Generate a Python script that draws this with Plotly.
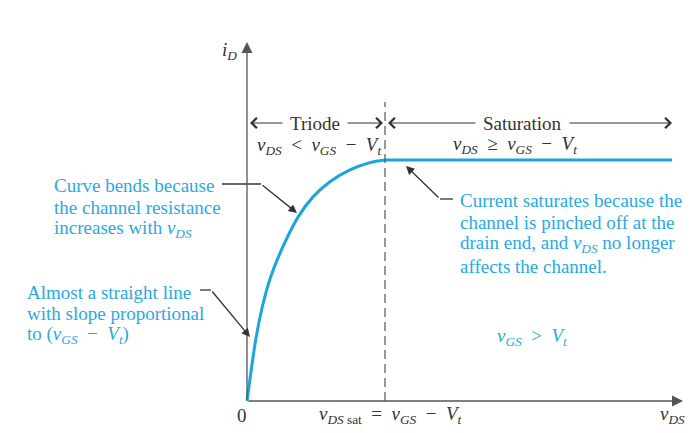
import plotly.graph_objects as go

# ---- data (normalised: vDS / vDS,sat  and  iD / iD,sat) ----
triode_vds = [0.0, 0.031, 0.063, 0.111, 0.172, 0.268, 0.372, 0.480, 0.601, 0.746, 0.891, 1.0]
triode_id = [0.0, 0.130, 0.253, 0.391, 0.516, 0.650, 0.765, 0.848, 0.910, 0.959, 0.989, 1.0]
sat_vds = [1.0, 3.08]
sat_id = [1.0, 1.0]
vds_sat = 1.0
axis_x_end = 3.16
axis_y_end = 1.49

# ---- layout helpers (pixel -> data) ----
W, H = 693, 433
X0, Y0 = 247, 401
SX, SY = 138.0, 241.0


def X(px):
    return (px - X0) / SX


def Y(py):
    return (Y0 - py) / SY


BLUE_LINE = "#1ba4de"
BLUE_TEXT = "#2aa9df"
DARK = "#333333"
AXIS = "#555555"
SERIF = "Liberation Serif"
SP = "\u2002"  # wider gap around operators

fig = go.Figure()
fig.add_trace(go.Scatter(x=triode_vds, y=triode_id, mode="lines",
                         line=dict(color=BLUE_LINE, width=3, shape="spline", smoothing=0.9),
                         hoverinfo="skip", showlegend=False))
fig.add_trace(go.Scatter(x=sat_vds, y=sat_id, mode="lines",
                         line=dict(color=BLUE_LINE, width=3),
                         hoverinfo="skip", showlegend=False))

shapes = [
    # dashed boundary
    dict(type="line", x0=vds_sat, x1=vds_sat, y0=0, y1=Y(102), xref="x", yref="y",
         line=dict(color=AXIS, width=1.2, dash="9px,5px")),
    # bent leader lines (horizontal parts)
    dict(type="line", x0=X(222), x1=X(261), y0=Y(184), y1=Y(184), xref="x", yref="y",
         line=dict(color=DARK, width=1.3)),
    dict(type="line", x0=X(200), x1=X(211), y0=Y(290), y1=Y(290), xref="x", yref="y",
         line=dict(color=DARK, width=1.3)),
    dict(type="line", x0=X(453), x1=X(440), y0=Y(199), y1=Y(199), xref="x", yref="y",
         line=dict(color=DARK, width=1.3)),
]

ann = []


def arrow(tx, ty, hx, hy, color, head, size, width):
    ann.append(dict(x=hx, y=hy, ax=tx, ay=ty, xref="x", yref="y", axref="x", ayref="y",
                    text="", showarrow=True, arrowhead=head, arrowsize=size,
                    arrowwidth=width, arrowcolor=color, standoff=0, startstandoff=0))


# axes
arrow(0, 0, 0, axis_y_end, AXIS, 2, 1.7, 1.3)
arrow(0, 0, axis_x_end, 0, AXIS, 2, 1.7, 1.3)
# region arrows
arrow(X(284), Y(123), X(250), Y(123), DARK, 4, 1.7, 1.2)
arrow(X(346), Y(123), X(383), Y(123), DARK, 4, 1.7, 1.2)
arrow(X(477), Y(123), X(388), Y(123), DARK, 4, 1.7, 1.2)
arrow(X(568), Y(123), X(672), Y(123), DARK, 4, 1.7, 1.2)
# leader arrows
arrow(X(261), Y(184), X(297), Y(213), DARK, 2, 1.3, 1.3)
arrow(X(211), Y(290), X(250), Y(337), DARK, 2, 1.3, 1.3)
arrow(X(440), Y(199), X(406), Y(166), DARK, 2, 1.3, 1.3)


def text(px, py, s, color=DARK, size=19, xanchor="center"):
    ann.append(dict(x=X(px), y=Y(py), xref="x", yref="y", text=s, showarrow=False,
                    xanchor=xanchor, yanchor="middle",
                    font=dict(family=SERIF, size=size, color=color)))


def block(px, ys, lines, color=BLUE_TEXT, size=19):
    for py, s in zip(ys, lines):
        text(px, py, s, color=color, size=size, xanchor="left")


text(229, 51, "<i>i<sub>D</sub></i>", size=19)
text(315, 123, "Triode", size=19)
text(522, 123, "Saturation", size=19)
text(319, 146, f"<i>v<sub>DS</sub></i>{SP}&lt;{SP}<i>v<sub>GS</sub></i>{SP}−{SP}<i>V<sub>t</sub></i>")
text(515, 145, f"<i>v<sub>DS</sub></i>{SP}≥{SP}<i>v<sub>GS</sub></i>{SP}−{SP}<i>V<sub>t</sub></i>")
block(52, [185, 207, 229],
      ["Curve bends because", "the channel resistance", "increases with <i>v<sub>DS</sub></i>"])
block(25, [292, 313, 335],
      ["Almost a straight line", "with slope proportional",
       f"to (<i>v<sub>GS</sub></i>{SP}−{SP}<i>V<sub>t</sub></i>)"])
block(458, [200, 222, 244, 266],
      ["Current saturates because the", "channel is pinched off at the",
       "drain end, and <i>v<sub>DS</sub></i> no longer", "affects the channel."])
text(532, 337, f"<i>v<sub>GS</sub></i>{SP}&gt;{SP}<i>V<sub>t</sub></i>", color=BLUE_TEXT)
text(242, 415, "0")
text(390, 415, f"<i>v<sub>DS</sub></i><sub> sat</sub>{SP}={SP}<i>v<sub>GS</sub></i>{SP}−{SP}<i>V<sub>t</sub></i>")
text(672, 415, "<i>v<sub>DS</sub></i>")

fig.update_layout(
    width=W, height=H, margin=dict(l=0, r=0, t=0, b=0, autoexpand=False),
    paper_bgcolor="white", plot_bgcolor="white",
    font=dict(family=SERIF),
    xaxis=dict(range=[X(0), X(W)], visible=False, fixedrange=True),
    yaxis=dict(range=[Y(H), Y(0)], visible=False, fixedrange=True),
    shapes=shapes, annotations=ann, showlegend=False,
)
fig.write_html("out.html", config={"displayModeBar": False},
               post_script="document.body.style.margin='0px';")
